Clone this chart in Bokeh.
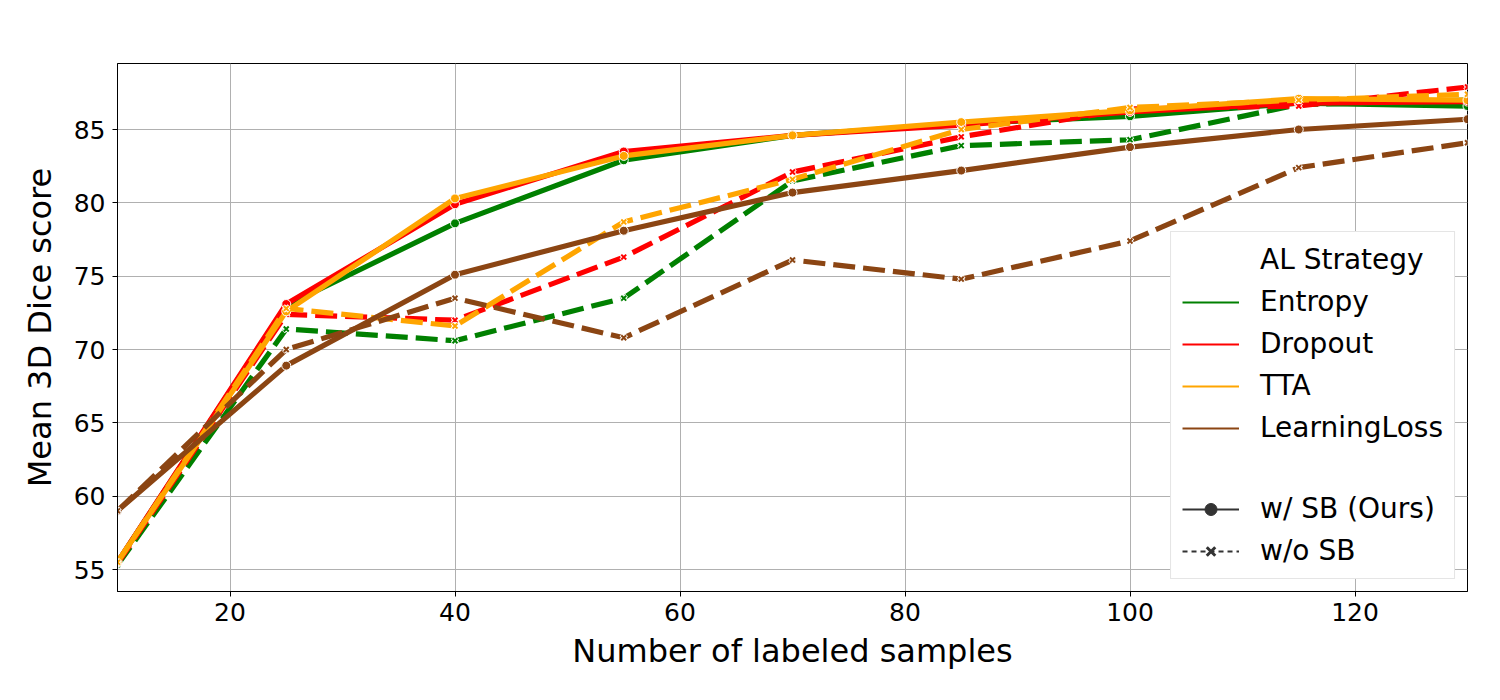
from bokeh.plotting import figure
from bokeh.models import Legend, LegendItem, FixedTicker
from bokeh.embed import file_html
from bokeh.resources import INLINE

# ---------------- data ----------------
x_samples = [10, 25, 40, 55, 70, 85, 100, 115, 130]
strategies = ["Entropy", "Dropout", "TTA", "LearningLoss"]
colors = ["green", "red", "orange", "saddlebrown"]

entropy_sb = [55.5, 73.0, 78.6, 82.9, 84.6, 85.4, 85.9, 86.8, 86.6]
entropy_nosb = [55.3, 71.4, 70.6, 73.5, 81.5, 83.9, 84.3, 86.7, 87.0]
dropout_sb = [55.5, 73.1, 79.9, 83.5, 84.6, 85.3, 86.2, 86.8, 86.9]
dropout_nosb = [55.4, 72.4, 72.0, 76.3, 82.1, 84.5, 86.4, 86.6, 87.9]
tta_sb = [55.5, 72.6, 80.3, 83.2, 84.6, 85.5, 86.3, 87.1, 87.0]
tta_nosb = [55.5, 72.8, 71.6, 78.7, 81.6, 85.0, 86.5, 87.0, 87.4]
ll_sb = [59.0, 68.9, 75.1, 78.1, 80.7, 82.2, 83.8, 85.0, 85.7]
ll_nosb = [59.0, 70.0, 73.5, 70.8, 76.1, 74.8, 77.4, 82.4, 84.1]

sb_series = [entropy_sb, dropout_sb, tta_sb, ll_sb]
nosb_series = [entropy_nosb, dropout_nosb, tta_nosb, ll_nosb]

x_ticks = [20, 40, 60, 80, 100, 120]
y_ticks = [55, 60, 65, 70, 75, 80, 85]

FONT = "DejaVu Sans"

p = figure(width=1492, height=692, output_backend="svg", toolbar_location=None,
           x_range=(10, 130), y_range=(53.5, 89.5),
           min_border_left=117, min_border_right=25, min_border_top=63, min_border_bottom=101)

p.background_fill_color = "white"
p.border_fill_color = "white"
p.outline_line_color = "black"
p.outline_line_width = 1

for ax, ticks in ((p.xaxis, x_ticks), (p.yaxis, y_ticks)):
    ax.ticker = FixedTicker(ticks=ticks)
    ax.major_label_text_font = FONT
    ax.major_label_text_font_size = "25px"
    ax.major_label_text_color = "black"
    ax.axis_label_text_font = FONT
    ax.axis_label_text_font_size = "32px"
    ax.axis_label_text_font_style = "normal"
    ax.axis_label_text_color = "black"
    ax.minor_tick_line_color = None
    ax.major_tick_in = 0
    ax.major_tick_out = 5
    ax.major_tick_line_color = "black"
    ax.axis_line_color = "black"

p.xaxis.axis_label = "Number of labeled samples"
p.yaxis.axis_label = "Mean 3D Dice score"
p.xaxis.major_label_standoff = 6
p.xaxis.axis_label_standoff = 8
p.yaxis.major_label_standoff = 7
p.yaxis.axis_label_standoff = 12

p.grid.grid_line_color = "#b0b0b0"
p.grid.grid_line_width = 1
p.xgrid.ticker = FixedTicker(ticks=x_ticks)
p.ygrid.ticker = FixedTicker(ticks=y_ticks)

LW = 5.2
for col, sb, nosb in zip(colors, sb_series, nosb_series):
    p.line(x_samples, sb, line_color=col, line_width=LW)
    p.scatter(x_samples, sb, marker="circle", size=9, fill_color=col,
              line_color="white", line_width=1)
    p.line(x_samples, nosb, line_color=col, line_width=LW, line_dash="22 8")
    p.scatter(x_samples, nosb, marker="x", size=8, line_color="white", line_width=4)
    p.scatter(x_samples, nosb, marker="x", size=7, line_color=col, line_width=2)

# ---------------- legend ----------------
# proxy renderers placed outside the visible ranges (legend glyphs only)
px = [-100, -90]
py = [0, 0]
items = []
title_r = p.line(px, py, line_alpha=0)
items.append(LegendItem(label="AL Strategy", renderers=[title_r]))
for name, col in zip(strategies, colors):
    r = p.line(px, py, line_color=col, line_width=2.2)
    items.append(LegendItem(label=name, renderers=[r]))
blank_r = p.line(px, py, line_alpha=0)
items.append(LegendItem(label=" ", renderers=[blank_r]))
sb_l = p.line(px, py, line_color="#333333", line_width=2)
sb_m = p.scatter(px, py, marker="circle", size=11, fill_color="#333333", line_color="#333333")
items.append(LegendItem(label="w/ SB (Ours)", renderers=[sb_l, sb_m]))
nosb_l = p.line(px, py, line_color="#333333", line_width=2, line_dash="5 4")
nosb_m = p.scatter(px, py, marker="x", size=7, line_color="#333333", line_width=3)
items.append(LegendItem(label="w/o SB", renderers=[nosb_l, nosb_m]))

legend = Legend(items=items, location="bottom_right", margin=12,
                padding=11, spacing=9, label_height=30, glyph_height=30,
                glyph_width=57, label_standoff=21,
                label_text_font=FONT, label_text_font_size="28px",
                label_text_color="black",
                border_line_color="#cccccc", border_line_width=1,
                background_fill_color="white", background_fill_alpha=1.0)
p.add_layout(legend, "center")

open("out.html", "w").write(file_html(p, INLINE))
